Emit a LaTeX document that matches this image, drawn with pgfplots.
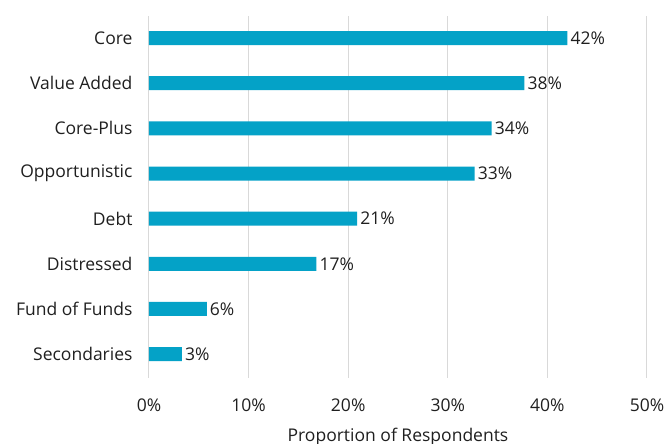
\documentclass[border=0pt]{standalone}
\usepackage{pgfplots}
\pgfplotsset{compat=1.18}
\usepackage{fontspec}
\setmainfont{Open Sans}
\definecolor{barblue}{RGB}{4,162,199}
\definecolor{gridgray}{RGB}{217,217,217}
\begin{document}
\begin{tikzpicture}[x=1pt,y=1pt]
\path[use as bounding box] (0,0) rectangle (670,444);
\begin{axis}[
  at={(149pt,66pt)}, anchor=south west,
  scale only axis, width=498pt, height=362pt,
  xbar, bar width=14pt,
  xmin=0, xmax=50, ymin=-0.53, ymax=7.49,
  xtick={0,10,20,30,40,50},
  xticklabels={0\%,10\%,20\%,30\%,40\%,50\%},
  ytick={0,1,2,3,4,5,6,7},
  yticklabels={Secondaries,Fund of Funds,Distressed,Debt,Opportunistic,Core-Plus,Value Added,Core},
  axis line style={draw=none},
  major tick length=0pt,
  xmajorgrids, grid style={draw=gridgray, line width=1pt},
  tick label style={font=\fontsize{17.5}{21}\selectfont, text=black!88},
  xticklabel style={anchor=base, yshift=-34pt},
  yticklabel style={anchor=east, xshift=-13pt},
  xlabel={Proportion of Respondents},
  xlabel style={at={(axis description cs:0.5,0)}, anchor=base, yshift=-64pt, font=\fontsize{17.5}{21}\selectfont, text=black!88},
  point meta=explicit symbolic,
  nodes near coords,
  nodes near coords style={anchor=west, inner xsep=3pt, font=\fontsize{17.5}{21}\selectfont, text=black!88},
]
\addplot[fill=barblue, draw=none] coordinates {
  (3.3,0) [3\%]
  (5.8,1) [6\%]
  (16.8,2) [17\%]
  (20.9,3) [21\%]
  (32.7,4) [33\%]
  (34.4,5) [34\%]
  (37.7,6) [38\%]
  (42.0,7) [42\%]
};
\end{axis}
\end{tikzpicture}
\end{document}
